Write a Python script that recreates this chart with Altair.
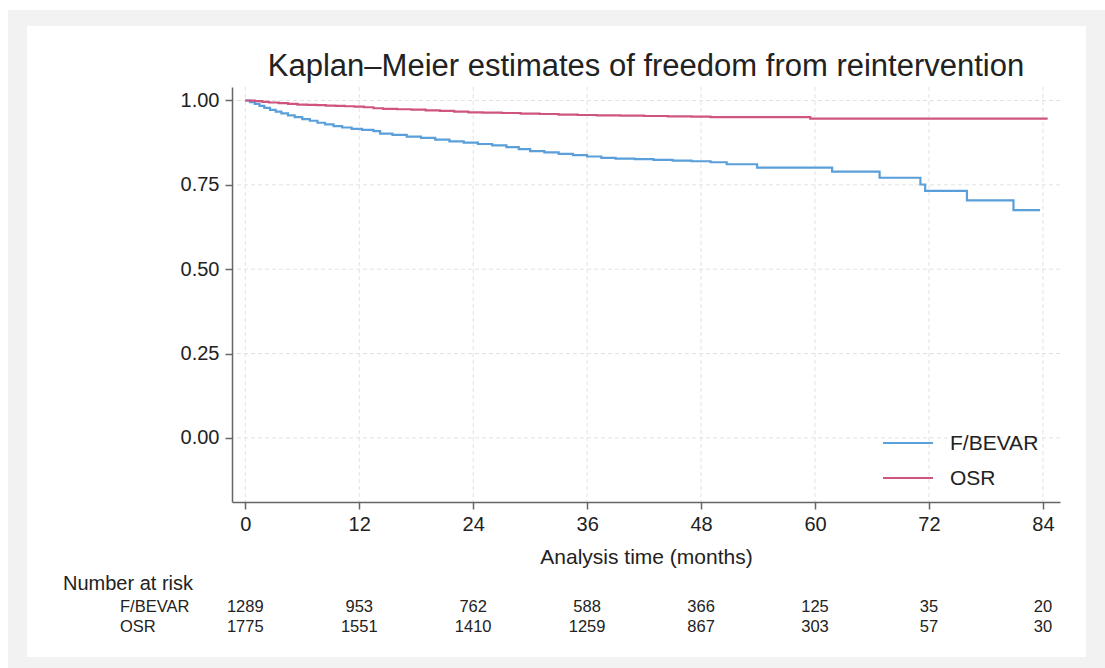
import altair as alt
import pandas as pd

# ---- data -------------------------------------------------------------
title_text = "Kaplan–Meier estimates of freedom from reintervention"
x_title = "Analysis time (months)"
groups = ["F/BEVAR", "OSR"]
group_colors = ["#5a9fd9", "#cf5580"]

# Kaplan-Meier step points (time in months, survival probability)
fbevar_t = [0, 0.5, 1.0, 1.5, 2.0, 2.6, 3.2, 3.8, 4.5, 5.2, 6.0, 6.8, 7.6, 8.4,
            9.3, 10.2, 11.2, 12.3, 13.5, 14.2, 15.5, 17.0, 18.5, 20.0, 21.5,
            23.0, 24.5, 26.0, 27.5, 28.8, 30.0, 31.5, 33.0, 34.5, 36.0, 37.5,
            39.0, 41.0, 43.0, 45.0, 47.0, 49.0, 50.7, 53.9, 61.8, 66.8, 71.1,
            71.6, 76.0, 80.9, 83.7]
fbevar_s = [1.0, 0.995, 0.99, 0.984, 0.978, 0.972, 0.967, 0.962, 0.956, 0.951,
            0.945, 0.940, 0.934, 0.929, 0.924, 0.920, 0.916, 0.913, 0.909,
            0.902, 0.898, 0.893, 0.889, 0.884, 0.879, 0.875, 0.871, 0.867,
            0.862, 0.856, 0.850, 0.846, 0.842, 0.838, 0.834, 0.830, 0.828,
            0.826, 0.824, 0.822, 0.820, 0.817, 0.811, 0.801, 0.789, 0.771,
            0.751, 0.732, 0.704, 0.675, 0.675]

osr_t = [0, 1.0, 1.8, 2.5, 3.5, 4.5, 5.5, 6.5, 7.5, 8.5, 9.5, 10.5, 11.5, 12.5,
         13.5, 14.5, 16.0, 17.5, 19.0, 20.5, 22.0, 23.5, 25.0, 27.0, 29.0, 31.0,
         33.0, 35.0, 37.0, 39.5, 42.0, 44.5, 47.0, 49.0, 59.5, 84.5]
osr_s = [1.0, 0.998, 0.996, 0.994, 0.992, 0.990, 0.988, 0.987, 0.986, 0.985,
         0.984, 0.983, 0.982, 0.980, 0.977, 0.975, 0.974, 0.973, 0.971, 0.969,
         0.967, 0.965, 0.964, 0.963, 0.961, 0.960, 0.958, 0.957, 0.956, 0.955,
         0.954, 0.953, 0.952, 0.951, 0.946, 0.946]

risk_label = "Number at risk"
risk_times = [0, 12, 24, 36, 48, 60, 72, 84]
risk_fbevar = [1289, 953, 762, 588, 366, 125, 35, 20]
risk_osr = [1775, 1551, 1410, 1259, 867, 303, 57, 30]

y_ticks = [0.0, 0.25, 0.50, 0.75, 1.0]

# ---- layout -----------------------------------------------------------
W, H = 828, 415
PAD = {"left": 232, "top": 87, "right": 45, "bottom": 166}
FONT = "Liberation Sans"
TXT = "#222222"
AXC = "#666666"

curves = pd.concat([
    pd.DataFrame({"t": fbevar_t, "s": fbevar_s, "group": groups[0]}),
    pd.DataFrame({"t": osr_t, "s": osr_s, "group": groups[1]}),
])

x_scale = alt.Scale(domain=[-1.4, 85.8], nice=False, zero=False)
y_scale = alt.Scale(domain=[-0.19, 1.04], nice=False, zero=False)

x_axis = alt.Axis(values=risk_times, grid=False, title=x_title,
                  domainColor=AXC, domainWidth=1.5, tickColor=AXC, tickWidth=1.5,
                  tickSize=7, labelFontSize=20, labelColor=TXT, labelPadding=5,
                  titleFontSize=21, titleFontWeight="normal", titleColor=TXT,
                  titlePadding=12, zindex=1)
y_axis = alt.Axis(values=y_ticks, grid=False, title=None, format=".2f",
                  domainColor=AXC, domainWidth=1.5, tickColor=AXC, tickWidth=1.5,
                  tickSize=7, labelFontSize=20, labelColor=TXT, labelPadding=6,
                  zindex=1)

X = alt.X("t:Q", scale=x_scale, axis=x_axis)
Y = alt.Y("s:Q", scale=y_scale, axis=y_axis)

one = pd.DataFrame({"k": [0]})

# outer grey frame and white panel behind everything
frame = alt.Chart(one).mark_rect(color="#f2f2f2").encode(
    x=alt.value(-224), x2=alt.value(873), y=alt.value(-77), y2=alt.value(581))
panel = alt.Chart(one).mark_rect(color="#ffffff").encode(
    x=alt.value(-205), x2=alt.value(854), y=alt.value(-61), y2=alt.value(570))

# chart heading, centred over the plot area
heading = alt.Chart(one).mark_text(
    align="center", baseline="alphabetic", fontSize=31, color=TXT).encode(
    x=alt.value(W / 2), y=alt.value(-11), text=alt.value(title_text))

# light dashed grid at the tick positions
vgrid = alt.Chart(pd.DataFrame({"t": risk_times})).mark_rule(
    color="#e2e2e2", strokeWidth=1, strokeDash=[4, 3]).encode(x=X)
hgrid = alt.Chart(pd.DataFrame({"s": y_ticks})).mark_rule(
    color="#e2e2e2", strokeWidth=1, strokeDash=[4, 3]).encode(y=Y)

lines = alt.Chart(curves).mark_line(interpolate="step-after", strokeWidth=2.2).encode(
    x=X, y=Y,
    color=alt.Color("group:N", scale=alt.Scale(domain=groups, range=group_colors),
                    legend=None),
    detail="group:N",
)

# legend drawn inside the plot, lower right
legend_layers = []
for i, (name, col) in enumerate(zip(groups, group_colors)):
    yy = 356 + 35 * i
    legend_layers.append(alt.Chart(one).mark_rule(color=col, strokeWidth=2.2).encode(
        x=alt.value(651), x2=alt.value(701), y=alt.value(yy)))
    legend_layers.append(alt.Chart(one).mark_text(
        align="left", baseline="middle", fontSize=21, color=TXT).encode(
        x=alt.value(718), y=alt.value(yy + 1), text=alt.value(name)))

# number-at-risk table under the x axis
risk_head = alt.Chart(one).mark_text(
    align="left", baseline="middle", fontSize=20, color=TXT).encode(
    x=alt.value(-169), y=alt.value(497), text=alt.value(risk_label))
risk_layers = [risk_head]
for name, counts, yy in [(groups[0], risk_fbevar, 520), (groups[1], risk_osr, 540)]:
    risk_layers.append(alt.Chart(one).mark_text(
        align="left", baseline="middle", fontSize=16.5, color=TXT).encode(
        x=alt.value(-112), y=alt.value(yy), text=alt.value(name)))
    df = pd.DataFrame({"t": risk_times, "n": counts})
    risk_layers.append(alt.Chart(df).mark_text(
        align="center", baseline="middle", fontSize=16.5, color=TXT).encode(
        x=X, y=alt.value(yy), text="n:Q"))

chart = alt.layer(frame, panel, heading, vgrid, hgrid, lines,
                  *legend_layers, *risk_layers).properties(
    width=W, height=H,
    padding=PAD,
    autosize=alt.AutoSizeParams(type="none"),
).configure(font=FONT, background="#ffffff").configure_view(stroke=None)

chart.save("out.html", embed_options={"renderer": "svg", "actions": False})
